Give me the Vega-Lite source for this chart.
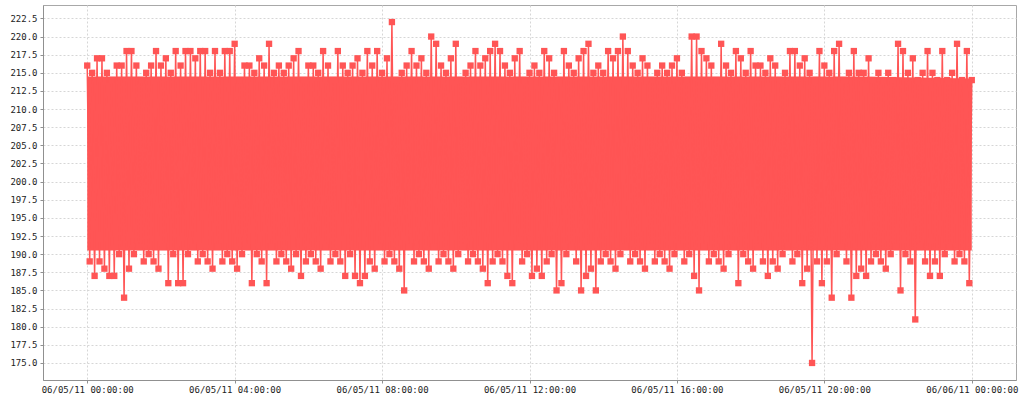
{
  "$schema": "https://vega.github.io/schema/vega-lite/v6.json",
  "width": 973,
  "height": 375,
  "autosize": "none",
  "padding": {"left": 43, "top": 5, "right": 8, "bottom": 20},
  "background": "white",
  "config": {
    "view": {"stroke": "#a8a8a8", "strokeWidth": 1},
    "axis": {
      "labelFont": "DejaVu Sans Mono",
      "labelFontSize": 9,
      "labelColor": "#222222",
      "domainColor": "#909090",
      "tickColor": "#909090",
      "tickSize": 3,
      "gridColor": "#d6d6d6",
      "gridDash": [2, 2],
      "gridWidth": 1
    }
  },
  "data": {
    "values": [
      {"t":"2011-06-05T00:00","v":216},{"t":"2011-06-05T00:04","v":189},{"t":"2011-06-05T00:08","v":215},{"t":"2011-06-05T00:12","v":187},{"t":"2011-06-05T00:16","v":217},{"t":"2011-06-05T00:20","v":189},{"t":"2011-06-05T00:24","v":217},{"t":"2011-06-05T00:28","v":188},{"t":"2011-06-05T00:32","v":215},{"t":"2011-06-05T00:36","v":187},{"t":"2011-06-05T00:40","v":214},{"t":"2011-06-05T00:44","v":187},{"t":"2011-06-05T00:48","v":216},{"t":"2011-06-05T00:52","v":190},{"t":"2011-06-05T00:56","v":216},
      {"t":"2011-06-05T01:00","v":184},{"t":"2011-06-05T01:04","v":218},{"t":"2011-06-05T01:08","v":188},{"t":"2011-06-05T01:12","v":218},{"t":"2011-06-05T01:16","v":190},{"t":"2011-06-05T01:20","v":216},{"t":"2011-06-05T01:24","v":191},{"t":"2011-06-05T01:28","v":214},{"t":"2011-06-05T01:32","v":189},{"t":"2011-06-05T01:36","v":215},{"t":"2011-06-05T01:40","v":190},{"t":"2011-06-05T01:44","v":216},{"t":"2011-06-05T01:48","v":189},{"t":"2011-06-05T01:52","v":218},{"t":"2011-06-05T01:56","v":188},
      {"t":"2011-06-05T02:00","v":216},{"t":"2011-06-05T02:04","v":191},{"t":"2011-06-05T02:08","v":217},{"t":"2011-06-05T02:12","v":186},{"t":"2011-06-05T02:16","v":215},{"t":"2011-06-05T02:20","v":190},{"t":"2011-06-05T02:24","v":218},{"t":"2011-06-05T02:28","v":186},{"t":"2011-06-05T02:32","v":216},{"t":"2011-06-05T02:36","v":186},{"t":"2011-06-05T02:40","v":218},{"t":"2011-06-05T02:44","v":190},{"t":"2011-06-05T02:48","v":218},{"t":"2011-06-05T02:52","v":191},{"t":"2011-06-05T02:56","v":217},
      {"t":"2011-06-05T03:00","v":189},{"t":"2011-06-05T03:04","v":218},{"t":"2011-06-05T03:08","v":190},{"t":"2011-06-05T03:12","v":218},{"t":"2011-06-05T03:16","v":189},{"t":"2011-06-05T03:20","v":215},{"t":"2011-06-05T03:24","v":188},{"t":"2011-06-05T03:28","v":218},{"t":"2011-06-05T03:32","v":191},{"t":"2011-06-05T03:36","v":215},{"t":"2011-06-05T03:40","v":189},{"t":"2011-06-05T03:44","v":218},{"t":"2011-06-05T03:48","v":190},{"t":"2011-06-05T03:52","v":218},{"t":"2011-06-05T03:56","v":189},
      {"t":"2011-06-05T04:00","v":219},{"t":"2011-06-05T04:04","v":188},{"t":"2011-06-05T04:08","v":214},{"t":"2011-06-05T04:12","v":190},{"t":"2011-06-05T04:16","v":216},{"t":"2011-06-05T04:20","v":191},{"t":"2011-06-05T04:24","v":216},{"t":"2011-06-05T04:28","v":186},{"t":"2011-06-05T04:32","v":215},{"t":"2011-06-05T04:36","v":190},{"t":"2011-06-05T04:40","v":217},{"t":"2011-06-05T04:44","v":189},{"t":"2011-06-05T04:48","v":216},{"t":"2011-06-05T04:52","v":186},{"t":"2011-06-05T04:56","v":219},
      {"t":"2011-06-05T05:00","v":191},{"t":"2011-06-05T05:04","v":215},{"t":"2011-06-05T05:08","v":189},{"t":"2011-06-05T05:12","v":216},{"t":"2011-06-05T05:16","v":190},{"t":"2011-06-05T05:20","v":215},{"t":"2011-06-05T05:24","v":189},{"t":"2011-06-05T05:28","v":216},{"t":"2011-06-05T05:32","v":188},{"t":"2011-06-05T05:36","v":217},{"t":"2011-06-05T05:40","v":190},{"t":"2011-06-05T05:44","v":218},{"t":"2011-06-05T05:48","v":187},{"t":"2011-06-05T05:52","v":214},{"t":"2011-06-05T05:56","v":189},
      {"t":"2011-06-05T06:00","v":216},{"t":"2011-06-05T06:04","v":190},{"t":"2011-06-05T06:08","v":216},{"t":"2011-06-05T06:12","v":189},{"t":"2011-06-05T06:16","v":215},{"t":"2011-06-05T06:20","v":188},{"t":"2011-06-05T06:24","v":218},{"t":"2011-06-05T06:28","v":191},{"t":"2011-06-05T06:32","v":216},{"t":"2011-06-05T06:36","v":189},{"t":"2011-06-05T06:40","v":214},{"t":"2011-06-05T06:44","v":190},{"t":"2011-06-05T06:48","v":218},{"t":"2011-06-05T06:52","v":189},{"t":"2011-06-05T06:56","v":216},
      {"t":"2011-06-05T07:00","v":187},{"t":"2011-06-05T07:04","v":215},{"t":"2011-06-05T07:08","v":190},{"t":"2011-06-05T07:12","v":216},{"t":"2011-06-05T07:16","v":187},{"t":"2011-06-05T07:20","v":217},{"t":"2011-06-05T07:24","v":186},{"t":"2011-06-05T07:28","v":215},{"t":"2011-06-05T07:32","v":187},{"t":"2011-06-05T07:36","v":218},{"t":"2011-06-05T07:40","v":189},{"t":"2011-06-05T07:44","v":216},{"t":"2011-06-05T07:48","v":188},{"t":"2011-06-05T07:52","v":218},{"t":"2011-06-05T07:56","v":191},
      {"t":"2011-06-05T08:00","v":215},{"t":"2011-06-05T08:04","v":189},{"t":"2011-06-05T08:08","v":217},{"t":"2011-06-05T08:12","v":190},{"t":"2011-06-05T08:16","v":222},{"t":"2011-06-05T08:20","v":189},{"t":"2011-06-05T08:24","v":214},{"t":"2011-06-05T08:28","v":188},{"t":"2011-06-05T08:32","v":215},{"t":"2011-06-05T08:36","v":185},{"t":"2011-06-05T08:40","v":216},{"t":"2011-06-05T08:44","v":191},{"t":"2011-06-05T08:48","v":218},{"t":"2011-06-05T08:52","v":189},{"t":"2011-06-05T08:56","v":216},
      {"t":"2011-06-05T09:00","v":190},{"t":"2011-06-05T09:04","v":217},{"t":"2011-06-05T09:08","v":189},{"t":"2011-06-05T09:12","v":215},{"t":"2011-06-05T09:16","v":188},{"t":"2011-06-05T09:20","v":220},{"t":"2011-06-05T09:24","v":191},{"t":"2011-06-05T09:28","v":219},{"t":"2011-06-05T09:32","v":189},{"t":"2011-06-05T09:36","v":216},{"t":"2011-06-05T09:40","v":190},{"t":"2011-06-05T09:44","v":215},{"t":"2011-06-05T09:48","v":189},{"t":"2011-06-05T09:52","v":217},{"t":"2011-06-05T09:56","v":188},
      {"t":"2011-06-05T10:00","v":219},{"t":"2011-06-05T10:04","v":190},{"t":"2011-06-05T10:08","v":214},{"t":"2011-06-05T10:12","v":191},{"t":"2011-06-05T10:16","v":215},{"t":"2011-06-05T10:20","v":189},{"t":"2011-06-05T10:24","v":216},{"t":"2011-06-05T10:28","v":190},{"t":"2011-06-05T10:32","v":218},{"t":"2011-06-05T10:36","v":189},{"t":"2011-06-05T10:40","v":216},{"t":"2011-06-05T10:44","v":188},{"t":"2011-06-05T10:48","v":217},{"t":"2011-06-05T10:52","v":186},{"t":"2011-06-05T10:56","v":218},
      {"t":"2011-06-05T11:00","v":189},{"t":"2011-06-05T11:04","v":219},{"t":"2011-06-05T11:08","v":190},{"t":"2011-06-05T11:12","v":218},{"t":"2011-06-05T11:16","v":189},{"t":"2011-06-05T11:20","v":216},{"t":"2011-06-05T11:24","v":187},{"t":"2011-06-05T11:28","v":215},{"t":"2011-06-05T11:32","v":186},{"t":"2011-06-05T11:36","v":217},{"t":"2011-06-05T11:40","v":191},{"t":"2011-06-05T11:44","v":218},{"t":"2011-06-05T11:48","v":189},{"t":"2011-06-05T11:52","v":214},{"t":"2011-06-05T11:56","v":190},
      {"t":"2011-06-05T12:00","v":215},{"t":"2011-06-05T12:04","v":187},{"t":"2011-06-05T12:08","v":216},{"t":"2011-06-05T12:12","v":188},{"t":"2011-06-05T12:16","v":215},{"t":"2011-06-05T12:20","v":187},{"t":"2011-06-05T12:24","v":218},{"t":"2011-06-05T12:28","v":189},{"t":"2011-06-05T12:32","v":217},{"t":"2011-06-05T12:36","v":190},{"t":"2011-06-05T12:40","v":215},{"t":"2011-06-05T12:44","v":185},{"t":"2011-06-05T12:48","v":214},{"t":"2011-06-05T12:52","v":186},{"t":"2011-06-05T12:56","v":218},
      {"t":"2011-06-05T13:00","v":190},{"t":"2011-06-05T13:04","v":216},{"t":"2011-06-05T13:08","v":191},{"t":"2011-06-05T13:12","v":215},{"t":"2011-06-05T13:16","v":189},{"t":"2011-06-05T13:20","v":217},{"t":"2011-06-05T13:24","v":185},{"t":"2011-06-05T13:28","v":218},{"t":"2011-06-05T13:32","v":187},{"t":"2011-06-05T13:36","v":219},{"t":"2011-06-05T13:40","v":188},{"t":"2011-06-05T13:44","v":215},{"t":"2011-06-05T13:48","v":185},{"t":"2011-06-05T13:52","v":216},{"t":"2011-06-05T13:56","v":189},
      {"t":"2011-06-05T14:00","v":215},{"t":"2011-06-05T14:04","v":190},{"t":"2011-06-05T14:08","v":218},{"t":"2011-06-05T14:12","v":189},{"t":"2011-06-05T14:16","v":217},{"t":"2011-06-05T14:20","v":188},{"t":"2011-06-05T14:24","v":218},{"t":"2011-06-05T14:28","v":190},{"t":"2011-06-05T14:32","v":220},{"t":"2011-06-05T14:36","v":191},{"t":"2011-06-05T14:40","v":218},{"t":"2011-06-05T14:44","v":189},{"t":"2011-06-05T14:48","v":216},{"t":"2011-06-05T14:52","v":190},{"t":"2011-06-05T14:56","v":215},
      {"t":"2011-06-05T15:00","v":189},{"t":"2011-06-05T15:04","v":217},{"t":"2011-06-05T15:08","v":188},{"t":"2011-06-05T15:12","v":216},{"t":"2011-06-05T15:16","v":191},{"t":"2011-06-05T15:20","v":214},{"t":"2011-06-05T15:24","v":189},{"t":"2011-06-05T15:28","v":215},{"t":"2011-06-05T15:32","v":190},{"t":"2011-06-05T15:36","v":216},{"t":"2011-06-05T15:40","v":189},{"t":"2011-06-05T15:44","v":215},{"t":"2011-06-05T15:48","v":188},{"t":"2011-06-05T15:52","v":216},{"t":"2011-06-05T15:56","v":190},
      {"t":"2011-06-05T16:00","v":217},{"t":"2011-06-05T16:04","v":191},{"t":"2011-06-05T16:08","v":215},{"t":"2011-06-05T16:12","v":189},{"t":"2011-06-05T16:16","v":214},{"t":"2011-06-05T16:20","v":190},{"t":"2011-06-05T16:24","v":220},{"t":"2011-06-05T16:28","v":187},{"t":"2011-06-05T16:32","v":220},{"t":"2011-06-05T16:36","v":185},{"t":"2011-06-05T16:40","v":218},{"t":"2011-06-05T16:44","v":191},{"t":"2011-06-05T16:48","v":217},{"t":"2011-06-05T16:52","v":189},{"t":"2011-06-05T16:56","v":216},
      {"t":"2011-06-05T17:00","v":190},{"t":"2011-06-05T17:04","v":214},{"t":"2011-06-05T17:08","v":189},{"t":"2011-06-05T17:12","v":219},{"t":"2011-06-05T17:16","v":188},{"t":"2011-06-05T17:20","v":216},{"t":"2011-06-05T17:24","v":190},{"t":"2011-06-05T17:28","v":215},{"t":"2011-06-05T17:32","v":191},{"t":"2011-06-05T17:36","v":218},{"t":"2011-06-05T17:40","v":186},{"t":"2011-06-05T17:44","v":217},{"t":"2011-06-05T17:48","v":190},{"t":"2011-06-05T17:52","v":215},{"t":"2011-06-05T17:56","v":189},
      {"t":"2011-06-05T18:00","v":218},{"t":"2011-06-05T18:04","v":188},{"t":"2011-06-05T18:08","v":216},{"t":"2011-06-05T18:12","v":191},{"t":"2011-06-05T18:16","v":216},{"t":"2011-06-05T18:20","v":189},{"t":"2011-06-05T18:24","v":215},{"t":"2011-06-05T18:28","v":187},{"t":"2011-06-05T18:32","v":217},{"t":"2011-06-05T18:36","v":189},{"t":"2011-06-05T18:40","v":216},{"t":"2011-06-05T18:44","v":188},{"t":"2011-06-05T18:48","v":214},{"t":"2011-06-05T18:52","v":190},{"t":"2011-06-05T18:56","v":215},
      {"t":"2011-06-05T19:00","v":191},{"t":"2011-06-05T19:04","v":218},{"t":"2011-06-05T19:08","v":189},{"t":"2011-06-05T19:12","v":218},{"t":"2011-06-05T19:16","v":190},{"t":"2011-06-05T19:20","v":216},{"t":"2011-06-05T19:24","v":186},{"t":"2011-06-05T19:28","v":217},{"t":"2011-06-05T19:32","v":188},{"t":"2011-06-05T19:36","v":215},{"t":"2011-06-05T19:40","v":175},{"t":"2011-06-05T19:44","v":214},{"t":"2011-06-05T19:48","v":189},{"t":"2011-06-05T19:52","v":218},{"t":"2011-06-05T19:56","v":186},
      {"t":"2011-06-05T20:00","v":216},{"t":"2011-06-05T20:04","v":189},{"t":"2011-06-05T20:08","v":215},{"t":"2011-06-05T20:12","v":184},{"t":"2011-06-05T20:16","v":218},{"t":"2011-06-05T20:20","v":190},{"t":"2011-06-05T20:24","v":219},{"t":"2011-06-05T20:28","v":191},{"t":"2011-06-05T20:32","v":214},{"t":"2011-06-05T20:36","v":189},{"t":"2011-06-05T20:40","v":215},{"t":"2011-06-05T20:44","v":184},{"t":"2011-06-05T20:48","v":218},{"t":"2011-06-05T20:52","v":187},{"t":"2011-06-05T20:56","v":215},
      {"t":"2011-06-05T21:00","v":188},{"t":"2011-06-05T21:04","v":215},{"t":"2011-06-05T21:08","v":187},{"t":"2011-06-05T21:12","v":217},{"t":"2011-06-05T21:16","v":189},{"t":"2011-06-05T21:20","v":214},{"t":"2011-06-05T21:24","v":190},{"t":"2011-06-05T21:28","v":215},{"t":"2011-06-05T21:32","v":189},{"t":"2011-06-05T21:36","v":214},{"t":"2011-06-05T21:40","v":188},{"t":"2011-06-05T21:44","v":215},{"t":"2011-06-05T21:48","v":190},{"t":"2011-06-05T21:52","v":214},{"t":"2011-06-05T21:56","v":191},
      {"t":"2011-06-05T22:00","v":219},{"t":"2011-06-05T22:04","v":185},{"t":"2011-06-05T22:08","v":218},{"t":"2011-06-05T22:12","v":190},{"t":"2011-06-05T22:16","v":215},{"t":"2011-06-05T22:20","v":189},{"t":"2011-06-05T22:24","v":217},{"t":"2011-06-05T22:28","v":181},{"t":"2011-06-05T22:32","v":214},{"t":"2011-06-05T22:36","v":191},{"t":"2011-06-05T22:40","v":215},{"t":"2011-06-05T22:44","v":189},{"t":"2011-06-05T22:48","v":218},{"t":"2011-06-05T22:52","v":187},{"t":"2011-06-05T22:56","v":215},
      {"t":"2011-06-05T23:00","v":189},{"t":"2011-06-05T23:04","v":214},{"t":"2011-06-05T23:08","v":187},{"t":"2011-06-05T23:12","v":218},{"t":"2011-06-05T23:16","v":190},{"t":"2011-06-05T23:20","v":214},{"t":"2011-06-05T23:24","v":191},{"t":"2011-06-05T23:28","v":215},{"t":"2011-06-05T23:32","v":189},{"t":"2011-06-05T23:36","v":219},{"t":"2011-06-05T23:40","v":190},{"t":"2011-06-05T23:44","v":214},{"t":"2011-06-05T23:48","v":189},{"t":"2011-06-05T23:52","v":218},{"t":"2011-06-05T23:56","v":186},
      {"t":"2011-06-06T00:00","v":214}
    ]
  },
  "encoding": {
    "x": {
      "field": "t",
      "type": "temporal",
      "scale": {
        "domain": [
          {"year": 2011, "month": 6, "date": 4, "hours": 22, "minutes": 48},
          {"year": 2011, "month": 6, "date": 6, "hours": 1, "minutes": 12}
        ]
      },
      "axis": {
        "title": null,
        "format": "%m/%d/%y %H:%M:%S",
        "values": [
          {"year": 2011, "month": 6, "date": 5, "hours": 0},
          {"year": 2011, "month": 6, "date": 5, "hours": 4},
          {"year": 2011, "month": 6, "date": 5, "hours": 8},
          {"year": 2011, "month": 6, "date": 5, "hours": 12},
          {"year": 2011, "month": 6, "date": 5, "hours": 16},
          {"year": 2011, "month": 6, "date": 5, "hours": 20},
          {"year": 2011, "month": 6, "date": 6, "hours": 0}
        ],
        "labelPadding": 2
      }
    },
    "y": {
      "field": "v",
      "type": "quantitative",
      "scale": {"domain": [172.65, 224.35], "nice": false, "zero": false},
      "axis": {
        "title": null,
        "values": [175, 177.5, 180, 182.5, 185, 187.5, 190, 192.5, 195, 197.5, 200, 202.5, 205, 207.5, 210, 212.5, 215, 217.5, 220, 222.5],
        "format": ".1f",
        "labelPadding": 3
      }
    }
  },
  "layer": [
    {
      "data": {
        "values": [
          {"t": "2011-06-05T00:00", "lo": 190.5, "hi": 214.5},
          {"t": "2011-06-05T21:00", "lo": 190.5, "hi": 214.5},
          {"t": "2011-06-06T00:00", "lo": 190.5, "hi": 214.2}
        ]
      },
      "mark": {"type": "area", "color": "#ff5555", "opacity": 1},
      "encoding": {
        "y": {"field": "lo", "type": "quantitative"},
        "y2": {"field": "hi"}
      }
    },
    {
      "mark": {"type": "line", "color": "#ff5555", "strokeWidth": 1.5, "strokeJoin": "bevel"},
      "encoding": {}
    },
    {
      "mark": {"type": "point", "shape": "square", "filled": true, "size": 40, "color": "#ff5555", "opacity": 1},
      "encoding": {}
    }
  ]
}
